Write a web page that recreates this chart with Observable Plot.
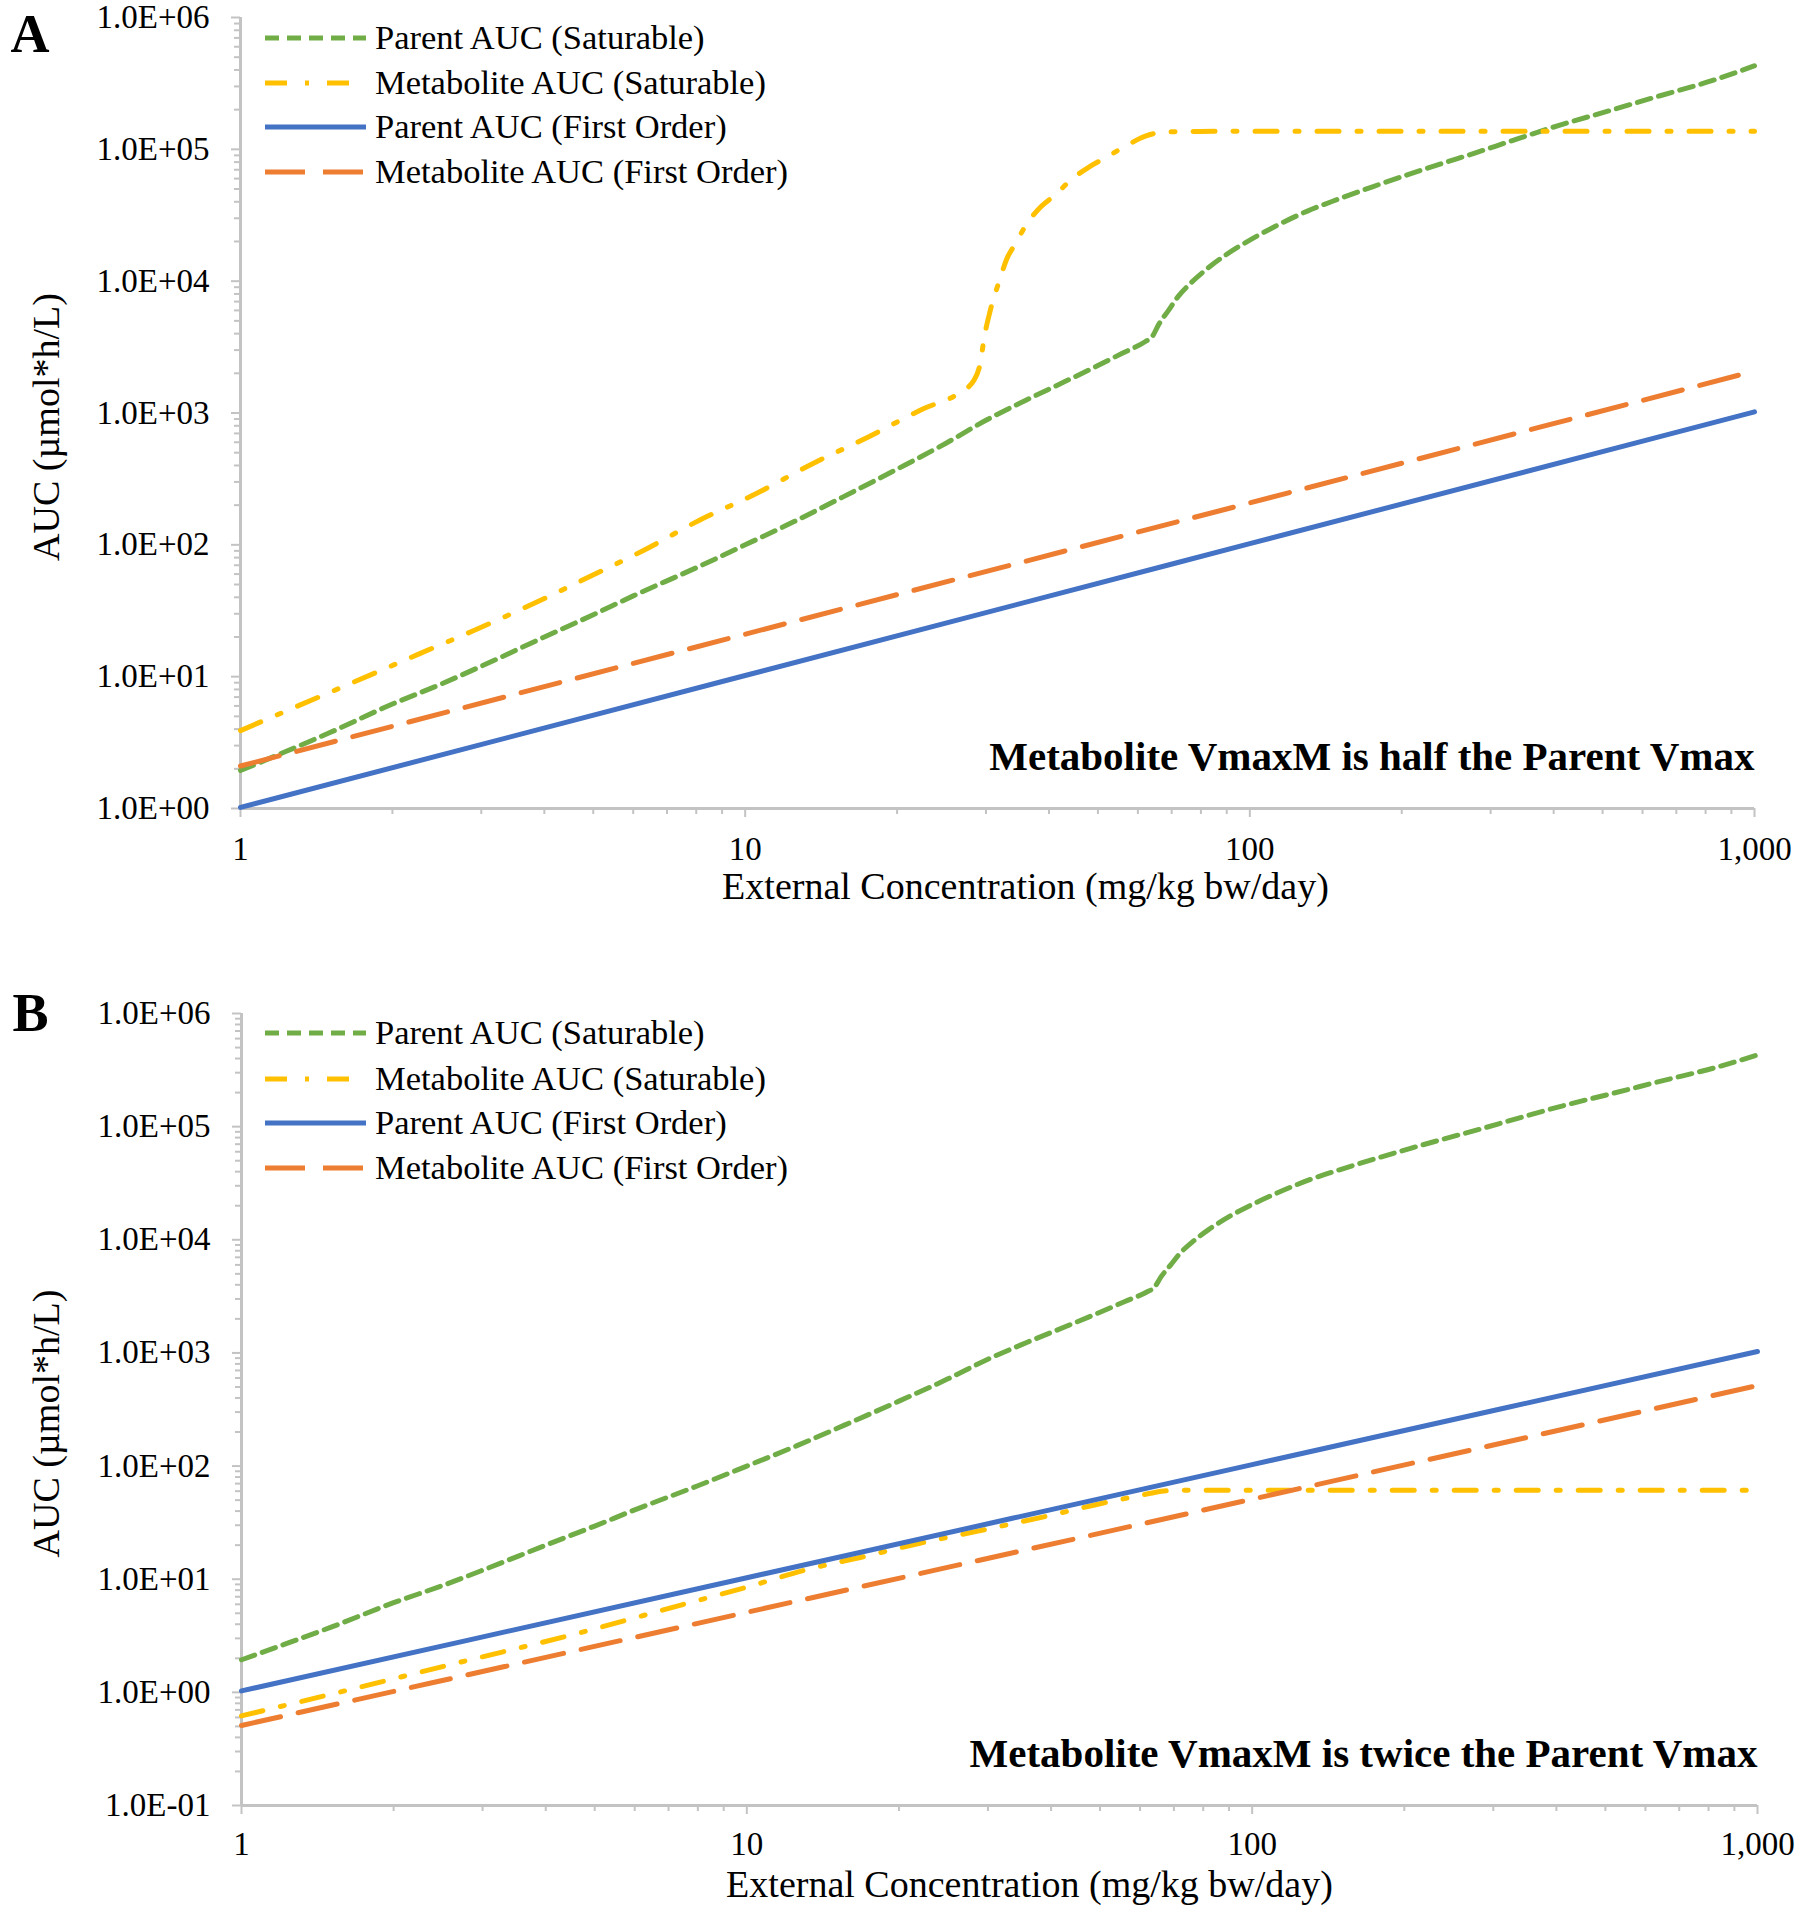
<!DOCTYPE html>
<html>
<head>
<meta charset="utf-8">
<script src="https://cdn.jsdelivr.net/npm/d3@7"></script>
<script src="https://cdn.jsdelivr.net/npm/@observablehq/plot@0.6"></script>
<style>
  html, body { margin: 0; padding: 0; background: #ffffff; }
  #chart { width: 1800px; height: 1908px; background: #ffffff; }
  #chart svg { display: block; }
</style>
</head>
<body>
<div id="chart"></div>
<script>
// ---------- data ----------
const xTicks = [1, 10, 100, 1000];
const xTickLabels = ["1", "10", "100", "1,000"];
const yTicksA = [1, 10, 100, 1000, 1e4, 1e5, 1e6];
const yTickLabelsA = ["1.0E+00", "1.0E+01", "1.0E+02", "1.0E+03", "1.0E+04", "1.0E+05", "1.0E+06"];
const yTicksB = [0.1, 1, 10, 100, 1000, 1e4, 1e5, 1e6];
const yTickLabelsB = ["1.0E-01", "1.0E+00", "1.0E+01", "1.0E+02", "1.0E+03", "1.0E+04", "1.0E+05", "1.0E+06"];

const seriesNames = ["Parent AUC (Saturable)", "Metabolite AUC (Saturable)", "Parent AUC (First Order)", "Metabolite AUC (First Order)"];

// Parent AUC (Saturable) - same in both panels
const parentSatX = [1, 1.2, 1.5, 2, 2.5, 3, 4, 5, 6, 8, 10, 12.5, 15.6, 20, 25, 30, 36, 43, 50, 56, 62, 64, 66, 69, 72, 76, 82, 90, 100, 110, 130, 150, 175, 205, 240, 280, 330, 410, 520, 650, 820, 1000];
const parentSatY = [1.94, 2.6, 3.75, 6.2, 8.8, 12, 20, 29.5, 41, 67, 100, 150, 230, 375, 590, 880, 1250, 1730, 2290, 2850, 3470, 3780, 4700, 6000, 7600, 9500, 12300, 16000, 20500, 25000, 34000, 42000, 52000, 64000, 78000, 94000, 116000, 152000, 198000, 255000, 330000, 430000];

// Panel A: Metabolite AUC (Saturable)
const metabSatAX = [1, 1.3, 1.7, 2.26, 2.9, 3.8, 4.9, 6.3, 8.1, 10.5, 13.6, 17.5, 22.6, 26.7, 28.4, 29.3, 29.7, 30.6, 31.9, 33, 34.3, 36.1, 38.5, 41.2, 44.1, 48, 51.8, 56.3, 62.1, 66.5, 74, 100, 1000];
const metabSatAY = [3.9, 6.0, 9.3, 14.9, 22.4, 35.7, 57, 91, 153, 244, 412, 656, 1080, 1440, 1770, 2500, 3550, 6000, 10100, 14800, 19200, 27000, 36500, 45300, 58200, 73400, 86500, 104000, 126000, 134000, 136500, 137000, 137000];

// First-order lines
const foX = [1, 10, 100, 1000];
const parentFoAY = [1.02, 10.2, 102, 1020];
const metabFoAY = [2.1, 21, 208, 2080];
const parentFoBY = [1.03, 10.3, 103, 1030];
const metabFoBY = [0.51, 5.1, 51, 515];

// Panel B: Metabolite AUC (Saturable)
const metabSatBX = [1, 1.6, 2.7, 4.6, 7.7, 10, 13, 17, 22, 28.5, 32, 40, 50, 57, 63, 68, 75, 100, 1000];
const metabSatBY = [0.62, 1.03, 1.84, 3.3, 6.2, 8.5, 12.0, 15.8, 20.8, 26.5, 29.6, 36.8, 46.5, 52.5, 57.5, 60.5, 61.2, 61.2, 61.2];

// ---------- styles ----------
const FONT = "'Liberation Serif', 'Times New Roman', serif";
const AXIS = "#c3c3c3";
const styles = [
  {stroke: "#70AD47", dash: "14,8"},
  {stroke: "#FFC000", dash: "22,18,4,18"},
  {stroke: "#4472C4", dash: null},
  {stroke: "#ED7D31", dash: "40,18"}
];
const LW = 5;

const rows = (xs, ys) => xs.map((x, i) => ({x, y: ys[i]}));

function minorTicks(lo, hi) {
  const out = [];
  for (let e = Math.log10(lo); e < Math.log10(hi); e++) {
    for (let m = 2; m <= 9; m++) out.push(m * Math.pow(10, e));
  }
  return out;
}

function panel(cfg) {
  const xLab = new Map(xTicks.map((d, i) => [d, xTickLabels[i]]));
  const yLab = new Map(cfg.yTicks.map((d, i) => [d, cfg.yLabels[i]]));
  const series = [
    rows(parentSatX, parentSatY),
    rows(cfg.metabSatX, cfg.metabSatY),
    rows(foX, cfg.parentFoY),
    rows(foX, cfg.metabFoY)
  ];
  const lines = series.map((data, k) => Plot.line(data, {
    x: "x", y: "y",
    stroke: styles[k].stroke, strokeWidth: LW,
    strokeDasharray: styles[k].dash || undefined,
    curve: "monotone-x"
  }));
  const svg = Plot.plot({
    width: 1800, height: 954,
    marginLeft: cfg.ml, marginRight: cfg.mr, marginTop: cfg.mt, marginBottom: cfg.mb,
    x: {type: "log", domain: [1, 1000], label: null},
    y: {type: "log", domain: cfg.yDomain, label: null},
    style: {fontFamily: FONT, fontSize: "33px", color: "black", background: "white", overflow: "visible"},
    marks: [
      Plot.axisX(minorTicks(1, 1000), {tickSize: 6, stroke: AXIS, strokeWidth: 2, fill: "none", label: null}),
      Plot.axisX(xTicks, {tickSize: 9, tickPadding: cfg.xPad, stroke: AXIS, strokeWidth: 2, fill: "black",
        tickFormat: d => xLab.get(d), fontSize: 33, fontFamily: FONT, label: null}),
      Plot.axisY(minorTicks(cfg.yDomain[0], cfg.yDomain[1]), {tickSize: 6, stroke: AXIS, strokeWidth: 2, fill: "none", label: null}),
      Plot.axisY(cfg.yTicks, {tickSize: 9, tickPadding: 22, stroke: AXIS, strokeWidth: 2, fill: "black",
        tickFormat: d => yLab.get(d), fontSize: 33, fontFamily: FONT, label: null}),
      Plot.ruleX([1], {stroke: AXIS, strokeWidth: 3}),
      Plot.ruleY([cfg.yDomain[0]], {stroke: AXIS, strokeWidth: 3}),
      ...lines,
      Plot.text([cfg.note], {frameAnchor: "bottom-right", dy: -52, textAnchor: "end", lineAnchor: "middle",
        fontSize: 41, fontWeight: "bold", fontFamily: FONT, fill: "black"}),
      Plot.text([cfg.letter], {frameAnchor: "top-left", dx: cfg.letterDx, dy: cfg.letterDy, textAnchor: "start", lineAnchor: "middle",
        fontSize: 54, fontWeight: "bold", fontFamily: FONT, fill: "black"}),
      Plot.text(["External Concentration (mg/kg bw/day)"], {frameAnchor: "bottom", dx: cfg.xTitleDx, dy: cfg.xTitleDy,
        textAnchor: "middle", lineAnchor: "middle", fontSize: 38, fontFamily: FONT, fill: "black"}),
      Plot.text(["AUC (µmol*h/L)"], {frameAnchor: "left", dx: cfg.yTitleDx, dy: cfg.yTitleDy, rotate: -90,
        textAnchor: "middle", lineAnchor: "middle", fontSize: 38, fontFamily: FONT, fill: "black"})
    ]
  });

  // legend (top-left inside plot area)
  const g = d3.select(svg).append("g").attr("class", "legend").attr("text-anchor", "start");
  cfg.legendY.forEach((yy, k) => {
    g.append("line")
      .attr("x1", 265).attr("x2", 366).attr("y1", yy).attr("y2", yy)
      .attr("stroke", styles[k].stroke).attr("stroke-width", LW)
      .attr("stroke-dasharray", styles[k].dash || null);
    g.append("text")
      .attr("x", 375).attr("y", yy).attr("dy", "0.32em")
      .attr("text-anchor", "start")
      .attr("font-family", FONT).attr("font-size", 34.5).attr("fill", "black")
      .text(seriesNames[k]);
  });
  return svg;
}

const chart = document.getElementById("chart");
chart.appendChild(panel({
  yDomain: [1, 1e6], yTicks: yTicksA, yLabels: yTickLabelsA,
  metabSatX: metabSatAX, metabSatY: metabSatAY, parentFoY: parentFoAY, metabFoY: metabFoAY,
  ml: 240, mr: 46, mt: 17, mb: 146, xPad: 19,
  note: "Metabolite VmaxM is half the Parent Vmax", letter: "A",
  letterDx: -230, letterDy: 17,
  xTitleDx: 28, xTitleDy: 78, yTitleDx: -194, yTitleDy: 14,
  legendY: [38, 83, 127, 172]
}));
chart.appendChild(panel({
  yDomain: [0.1, 1e6], yTicks: yTicksB, yLabels: yTickLabelsB,
  metabSatX: metabSatBX, metabSatY: metabSatBY, parentFoY: parentFoBY, metabFoY: metabFoBY,
  ml: 241, mr: 43, mt: 59, mb: 103, xPad: 17,
  note: "Metabolite VmaxM is twice the Parent Vmax", letter: "B",
  letterDx: -229, letterDy: 0,
  xTitleDx: 30, xTitleDy: 79, yTitleDx: -195, yTitleDy: 14,
  legendY: [79, 125, 169, 214]
}));
</script>
</body>
</html>
